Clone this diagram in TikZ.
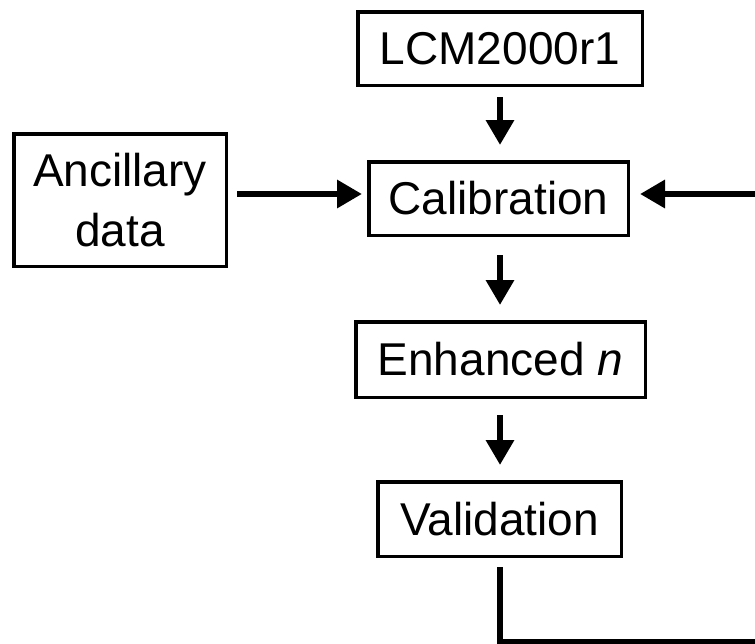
\documentclass[tikz,border=0pt]{standalone}
\usepackage{fontspec}
\setmainfont{Liberation Sans}
\usetikzlibrary{arrows.meta}
\begin{document}
\begin{tikzpicture}[x=1pt,y=-1pt,
  box/.style={draw, line width=3.5pt, inner sep=0pt, align=center,
    font=\fontsize{46}{60}\selectfont},
  flow/.style={line width=6.5pt, -{Triangle[length=25pt,width=27pt]}},
  back/.style={line width=6pt}]
\useasboundingbox (0,0) rectangle (755,643);
\clip (0,0) rectangle (755,643);
\node[box, minimum width=284.5pt, minimum height=73.5pt] (lcm) at (500,48.5) {LCM2000r1};
\node[box, minimum width=212.5pt, minimum height=132.5pt] (anc) at (120,200) {Ancillary\\data};
\node[box, minimum width=259.5pt, minimum height=73.5pt] (cal) at (498.5,198.5) {Calibration};
\node[box, minimum width=289.5pt, minimum height=75.5pt] (enh) at (500.5,359.5) {Enhanced \textit{n}};
\node[box, minimum width=243.5pt, minimum height=74.5pt] (val) at (499.5,519) {Validation};
\coordinate (c1) at (500,642);
\coordinate (c2) at (770,642);
\coordinate (c3) at (770,194);
\draw[flow, shorten <=10pt, shorten >=15pt] (500,0 |- lcm.south) -- (500,0 |- cal.north);
\draw[flow, shorten <=18pt, shorten >=15pt] (500,0 |- cal.south) -- (500,0 |- enh.north);
\draw[flow, shorten <=16pt, shorten >=15pt] (500,0 |- enh.south) -- (500,0 |- val.north);
\draw[flow, shorten <=9pt, shorten >=5pt] (anc.east |- 0,194) -- (cal.west |- 0,194);
\draw[back, shorten <=9pt] (500,0 |- val.south) -- (c1) -- (c2);
\draw[flow] (c3) -- ([xshift=10pt]cal.east |- c3);
\end{tikzpicture}
\end{document}
